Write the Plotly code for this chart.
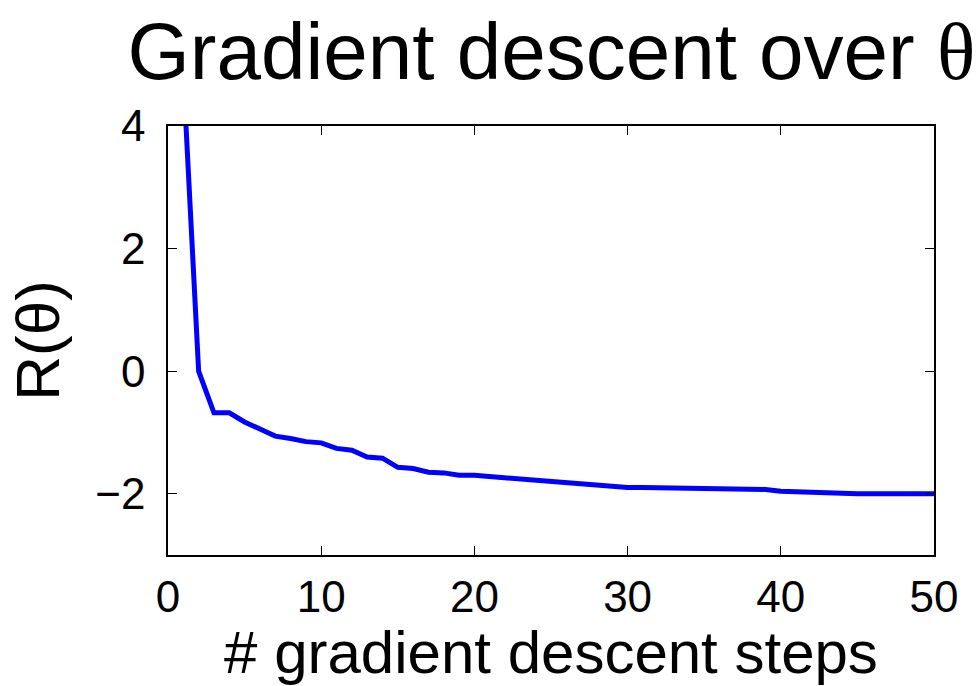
import plotly.graph_objects as go

steps = list(range(1, 51))
risk = [4.85, 0.0, -0.68, -0.68, -0.83, -0.94, -1.06, -1.10, -1.15, -1.17,
        -1.26, -1.29, -1.40, -1.42, -1.57, -1.59, -1.65, -1.66, -1.70, -1.70,
        -1.72, -1.75, -1.77, -1.79, -1.80, -1.83, -1.84, -1.86, -1.88, -1.90,
        -1.90, -1.905, -1.91, -1.91, -1.915, -1.92, -1.92, -1.925, -1.93, -1.96,
        -1.97, -1.98, -1.99, -1.995, -2.0, -2.0, -2.0, -2.0, -2.0, -2.0]

title_text = 'Gradient descent over <span style="font-family:Liberation Serif">θ</span>'
x_title = "# gradient descent steps"
y_title = "R(θ)"
x_range = [0, 50]
y_range = [-3, 4]

FONT = "Liberation Sans, Arial, Helvetica, sans-serif"

fig = go.Figure()
fig.add_trace(go.Scatter(x=steps, y=risk, mode="lines",
                         line=dict(color="#0000ff", width=5),
                         showlegend=False, cliponaxis=True))

axis_common = dict(showline=True, linecolor="black", linewidth=1.5, mirror="ticks",
                   ticks="inside", ticklen=9, tickwidth=1.2, tickcolor="black",
                   showgrid=False, zeroline=False, automargin=False,
                   tickfont=dict(family=FONT, size=44, color="black"))

fig.update_layout(
    width=976, height=686,
    margin=dict(l=168, r=42, t=126, b=131),
    paper_bgcolor="white", plot_bgcolor="white",
    font=dict(family=FONT, color="black"),
    title=dict(text=title_text, x=0.565, xanchor="center", y=0.925, yanchor="middle",
               yref="container", font=dict(family=FONT, size=80, color="black")),
    xaxis=dict(range=x_range, tickmode="linear", tick0=0, dtick=10,
               ticklabelstandoff=2,
               title=dict(text=x_title, font=dict(family=FONT, size=60, color="black"),
                          standoff=10),
               **axis_common),
    yaxis=dict(range=y_range, tickmode="linear", tick0=0, dtick=2,
               ticklabelstandoff=12,
               title=dict(text=y_title, font=dict(family=FONT, size=62, color="black"),
                          standoff=16),
               **axis_common),
)

fig.write_html("out.html", config={"displayModeBar": False},
               post_script="document.body.style.margin='0';document.body.style.padding='0';window.dispatchEvent(new Event('resize'));")
